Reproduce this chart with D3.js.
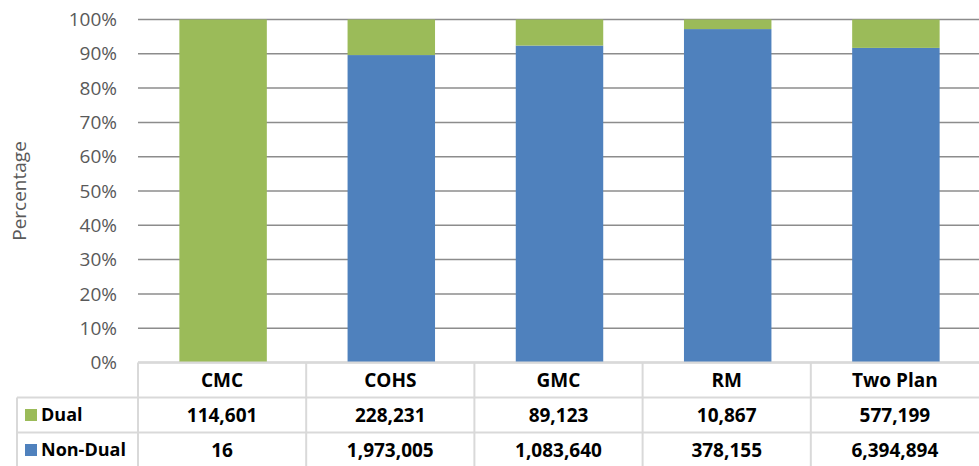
<!doctype html>
<html lang="en">
<head>
  <meta charset="utf-8">
  <title>Dual vs Non-Dual</title>
  <script src="https://cdn.jsdelivr.net/npm/d3@7"></script>
  <style>
    body { margin: 0; background: #fff; }
    text { font-family: "Open Sans", "Noto Sans", sans-serif; }
  </style>
</head>
<body>
<div id="chart"></div>

<script>
// data
var plans = ["CMC", "COHS", "GMC", "RM", "Two Plan"];
var dual = [114601, 228231, 89123, 10867, 577199];
var nonDual = [16, 1973005, 1083640, 378155, 6394894];
var yTicks = [0, 0.1, 0.2, 0.3, 0.4, 0.5, 0.6, 0.7, 0.8, 0.9, 1];

var W = 979, H = 466;
var m = { left: 138, right: 979, top: 19.5, bottom: 362.5 };
var rowH = 35, legendX = 17;

var svg = d3.select("#chart").append("svg")
    .attr("width", W).attr("height", H);

var x = d3.scaleBand().domain(plans).range([m.left, m.right]);
var y = d3.scaleLinear().domain([0, 1]).range([m.bottom, m.top]);

// gridlines
svg.append("g").selectAll("line").data(yTicks).enter().append("line")
    .attr("x1", m.left).attr("x2", m.right)
    .attr("y1", function(d){ return y(d); })
    .attr("y2", function(d){ return y(d); })
    .attr("stroke", "#8c8c8c").attr("stroke-width", 1.5);

// y tick labels
svg.append("g").selectAll("text").data(yTicks).enter().append("text")
    .attr("x", 117).attr("y", function(d){ return y(d); })
    .attr("dy", "0.35em").attr("text-anchor", "end")
    .attr("font-size", 19).attr("fill", "#595959")
    .text(d3.format(".0%"));

svg.append("text")
    .attr("transform", "translate(19," + ((m.top + m.bottom) / 2) + ") rotate(-90)")
    .attr("text-anchor", "middle").attr("dy", "0.35em")
    .attr("font-size", 19).attr("fill", "#595959")
    .text("Percentage");

// stacked bars
var rows = plans.map(function(p, i) {
  var tot = dual[i] + nonDual[i];
  return { plan: p, nonDual: nonDual[i] / tot, dual: dual[i] / tot };
});
var stack = d3.stack().keys(["nonDual", "dual"])(rows);
var colors = { nonDual: "#4f81bd", dual: "#9bbb59" };
var bw = x.bandwidth() * 0.52;

svg.append("g").selectAll("g").data(stack).enter().append("g")
    .attr("fill", function(s){ return colors[s.key]; })
  .selectAll("rect").data(function(s){ return s; }).enter().append("rect")
    .attr("x", function(d){ return x(d.data.plan) + (x.bandwidth() - bw) / 2 + 1; })
    .attr("width", bw)
    .attr("y", function(d){ return y(d[1]); })
    .attr("height", function(d){ return y(d[0]) - y(d[1]); });

// data table
var tbl = svg.append("g");
var fmt = d3.format(",");
var border = "#d9d9d9";

[m.bottom, m.bottom + rowH, m.bottom + 2 * rowH].forEach(function(yy, i) {
  tbl.append("line")
      .attr("x1", i === 0 ? m.left : legendX).attr("x2", m.right)
      .attr("y1", yy).attr("y2", yy)
      .attr("stroke", border).attr("stroke-width", 2);
});
plans.forEach(function(p) {
  tbl.append("line")
      .attr("x1", x(p)).attr("x2", x(p))
      .attr("y1", m.bottom).attr("y2", H)
      .attr("stroke", border).attr("stroke-width", 2);
});
tbl.append("line").attr("x1", legendX).attr("x2", legendX)
    .attr("y1", m.bottom + rowH).attr("y2", H)
    .attr("stroke", border).attr("stroke-width", 2);

// header
tbl.selectAll(".hdr").data(plans).enter().append("text")
    .attr("x", function(d){ return x(d) + x.bandwidth() / 2; })
    .attr("y", m.bottom + rowH / 2).attr("dy", "0.35em")
    .attr("text-anchor", "middle").attr("font-size", 19).attr("font-weight", "bold")
    .text(function(d){ return d; });

var series = [
  { name: "Dual", vals: dual, color: colors.dual },
  { name: "Non-Dual", vals: nonDual, color: colors.nonDual }
];
series.forEach(function(s, r) {
  var cy = m.bottom + rowH * (r + 1) + rowH / 2;
  tbl.append("rect").attr("x", 25).attr("y", cy - 6).attr("width", 12).attr("height", 12)
      .attr("fill", s.color);
  tbl.append("text").attr("x", 41).attr("y", cy).attr("dy", "0.35em")
      .attr("font-size", 18).attr("font-weight", "bold").text(s.name);
  tbl.selectAll(".v" + r).data(s.vals).enter().append("text")
      .attr("x", function(d, i){ return x(plans[i]) + x.bandwidth() / 2; })
      .attr("y", cy).attr("dy", "0.35em")
      .attr("text-anchor", "middle").attr("font-size", 19).attr("font-weight", "bold")
      .text(fmt);
});
</script>
</body>
</html>
